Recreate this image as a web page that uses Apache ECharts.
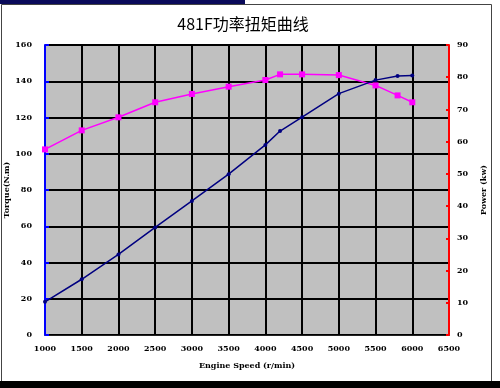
<!DOCTYPE html>
<html><head><meta charset="utf-8">
<script src="https://cdn.jsdelivr.net/npm/echarts@6/dist/echarts.min.js"></script>
<style>html,body{margin:0;padding:0;background:#fff}#c{width:500px;height:388px}</style>
</head><body><div id="c"></div>
<script>
const titleText = '481F功率扭矩曲线';
const speeds = [1000,1500,2000,2500,3000,3500,4000,4200,4500,5000,5500,5800,6000];
const torque = [102.4,112.9,120.1,128.4,133.0,137.0,140.7,143.8,143.8,143.4,137.7,132.2,128.4];
const power  = [10.3,17.3,25.0,33.4,41.6,49.9,59.0,63.3,67.6,74.9,79.1,80.4,80.5];
const xName = 'Engine Speed (r/min)';
const leftName = 'Torque(N.m)';
const rightName = 'Power (kw)';

const chart = echarts.init(document.getElementById('c'));
const lblFont = {color:'#000', fontSize:8, fontWeight:'bold', fontFamily:'DejaVu Serif'};
const nameFont = {fontSize:8, fontWeight:'bold', color:'#000', fontFamily:'DejaVu Serif'};
chart.setOption({
  animation:false,
  backgroundColor:'#fff',
  title:{text:titleText, left:238, top:11, textAlign:'center',
    textStyle:{fontSize:16, fontWeight:'normal', color:'#000', fontFamily:'Noto Sans CJK SC'}},
  graphic:[
    {type:'rect', shape:{x:0,y:0,width:245,height:4}, style:{fill:'#0a0a5a'}, z:-1},
    {type:'rect', shape:{x:1.5,y:4.5,width:490,height:377}, style:{fill:'none', stroke:'#444', lineWidth:1}, z:-1},
    {type:'rect', shape:{x:0,y:381,width:500,height:7}, style:{fill:'#000'}, z:-1}
  ],
  grid:{left:45, right:51, top:45, bottom:53, containLabel:false, outerBoundsMode:'none',
    show:true, backgroundColor:'#c0c0c0', borderColor:'#222', borderWidth:1},
  xAxis:{type:'value', min:1000, max:6500, interval:500,
    name:xName, nameLocation:'middle', nameGap:27, nameMoveOverlap:false, nameTextStyle:nameFont,
    axisLine:{lineStyle:{color:'#222', width:1}}, axisTick:{show:false},
    axisLabel:Object.assign({margin:10, formatter:v=>String(v)}, lblFont),
    splitLine:{lineStyle:{color:'#000', width:2}}},
  yAxis:[
    {type:'value', min:0, max:160, interval:20, position:'left',
      name:leftName, nameLocation:'middle', nameGap:34, nameRotate:90, nameMoveOverlap:false, nameTextStyle:nameFont,
      axisLine:{show:true, lineStyle:{color:'#0000ff', width:2}},
      axisTick:{show:true, inside:true, length:4, lineStyle:{color:'#0000ff', width:2}},
      axisLabel:Object.assign({margin:13}, lblFont),
      splitLine:{lineStyle:{color:'#000', width:2}}},
    {type:'value', min:0, max:90, interval:10, position:'right',
      name:rightName, nameLocation:'middle', nameGap:31, nameRotate:90, nameMoveOverlap:false, nameTextStyle:nameFont,
      axisLine:{show:true, lineStyle:{color:'#ff0000', width:2}},
      axisTick:{show:true, inside:true, length:3, lineStyle:{color:'#ff0000', width:2}},
      axisLabel:Object.assign({margin:8}, lblFont),
      splitLine:{show:false}}
  ],
  series:[
    {type:'line', yAxisIndex:0, data:speeds.map((s,i)=>[s,torque[i]]),
      symbol:'rect', symbolSize:6, lineStyle:{color:'#ff00ff', width:1.5}, itemStyle:{color:'#ff00ff'}},
    {type:'line', yAxisIndex:1, data:speeds.map((s,i)=>[s,power[i]]),
      symbol:'circle', symbolSize:4, lineStyle:{color:'#000080', width:1.5}, itemStyle:{color:'#000080'}}
  ]
});
</script></body></html>
